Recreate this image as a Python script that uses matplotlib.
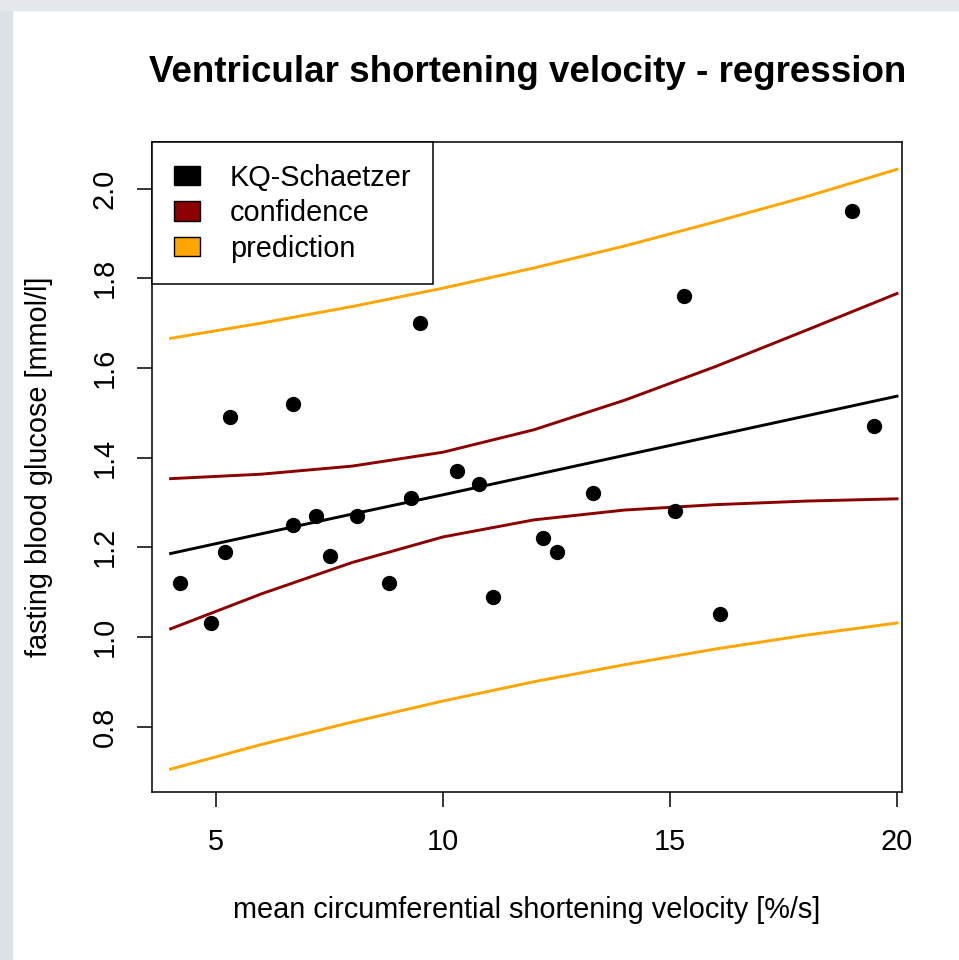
import numpy as np
import matplotlib
matplotlib.use("Agg")
import matplotlib.pyplot as plt
from matplotlib.patches import Patch, Rectangle

plt.rcParams['font.family'] = ['Liberation Sans', 'DejaVu Sans']

# observed points (mean circumferential shortening velocity vs. fasting glucose)
velocity = [15.3, 10.8, 8.1, 19.5, 7.2, 5.3, 9.3, 11.1, 7.5, 12.2, 6.7, 5.2,
            19.0, 15.1, 6.7, 4.2, 10.3, 12.5, 16.1, 13.3, 4.9, 8.8, 9.5]
glucose = [1.76, 1.34, 1.27, 1.47, 1.27, 1.49, 1.31, 1.09, 1.18, 1.22, 1.25, 1.19,
           1.95, 1.28, 1.52, 1.12, 1.37, 1.19, 1.05, 1.32, 1.03, 1.12, 1.70]

grid_x = [4, 6, 8, 10, 12, 14, 16, 18, 20]
fit_y = [1.186, 1.230, 1.274, 1.317, 1.361, 1.405, 1.449, 1.493, 1.537]
conf_lo = [1.018, 1.096, 1.166, 1.223, 1.261, 1.283, 1.295, 1.303, 1.308]
conf_hi = [1.353, 1.363, 1.381, 1.412, 1.462, 1.528, 1.603, 1.684, 1.766]
pred_lo = [0.705, 0.760, 0.810, 0.857, 0.900, 0.938, 0.973, 1.004, 1.031]
pred_hi = [1.666, 1.700, 1.737, 1.778, 1.823, 1.872, 1.926, 1.982, 2.043]

fig = plt.figure(figsize=(9.59, 9.60), dpi=100)
fig.patch.set_facecolor('white')
# light gray frame of the screenshot
fig.patches.append(Rectangle((0, 0), 12 / 959, 1, transform=fig.transFigure,
                             color='#dde2e7', zorder=0))
fig.patches.append(Rectangle((0, 1 - 10 / 960), 1, 10 / 960, transform=fig.transFigure,
                             color='#e4e8ec', zorder=0))

ax = fig.add_axes([152 / 959, 1 - 792 / 960, 750 / 959, 650 / 960])

fs = 20.8
ax.plot(grid_x, pred_hi, color='orange', lw=2.1)
ax.plot(grid_x, pred_lo, color='orange', lw=2.1)
ax.plot(grid_x, conf_hi, color='darkred', lw=2.1)
ax.plot(grid_x, conf_lo, color='darkred', lw=2.1)
ax.plot(grid_x, fit_y, color='black', lw=2.1)
ax.plot(velocity, glucose, 'o', color='black', ms=10)

ax.set_xlim(3.59, 20.11)
ax.set_ylim(0.654, 2.104)
ax.set_xticks([5, 10, 15, 20])
ax.set_yticks([0.8, 1.0, 1.2, 1.4, 1.6, 1.8, 2.0])
ax.set_yticklabels(['0.8', '1.0', '1.2', '1.4', '1.6', '1.8', '2.0'],
                   rotation=90, va='center')
ax.tick_params(axis='both', labelsize=fs, length=11, width=1.1, direction='out')
ax.tick_params(axis='x', pad=15)
ax.tick_params(axis='y', pad=13)
for s in ax.spines.values():
    s.set_linewidth(1.1)

ax.set_xlabel('mean circumferential shortening velocity [%/s]', fontsize=fs, labelpad=29)
ax.set_ylabel('fasting blood glucose [mmol/l]', fontsize=fs, labelpad=27)
fig.text(528 / 959, 1 - 73 / 960, 'Ventricular shortening velocity - regression',
         ha='center', va='center', fontsize=26.5, fontweight='bold')

handles = [Patch(facecolor='black', edgecolor='black', lw=1),
           Patch(facecolor='darkred', edgecolor='black', lw=1),
           Patch(facecolor='orange', edgecolor='black', lw=1)]
leg = ax.legend(handles, ['KQ-Schaetzer', 'confidence', 'prediction'],
                loc='upper left', borderaxespad=0, fontsize=fs, fancybox=False,
                framealpha=1, edgecolor='black', handlelength=0.9, handleheight=0.65,
                handletextpad=1.05, labelspacing=0.26, borderpad=0.75)
leg.get_frame().set_linewidth(1.1)

fig.savefig('out.png', dpi=100)
